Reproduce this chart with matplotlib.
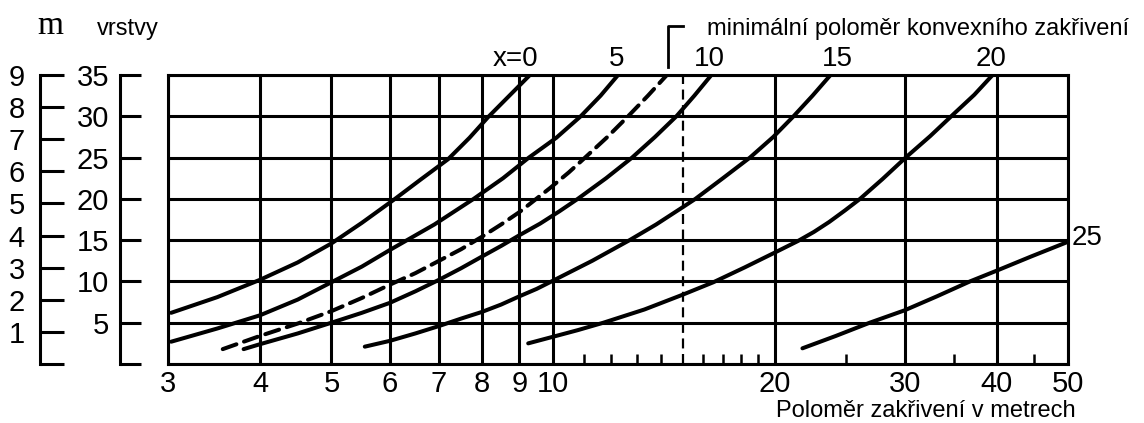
import numpy as np
import matplotlib.pyplot as plt
from matplotlib.ticker import FixedLocator, NullFormatter

plt.rcParams['font.family'] = ['Liberation Sans', 'DejaVu Sans']

# data (x = radius in m, y = layers)
x_ticks = [3, 4, 5, 6, 7, 8, 9, 10, 20, 30, 40, 50]
x_minor = [11, 12, 13, 14, 16, 17, 18, 19, 25, 35, 45]
vrstvy_ticks = [0, 5, 10, 15, 20, 25, 30, 35]
m_ticks = [0, 1, 2, 3, 4, 5, 6, 7, 8, 9]

c0_x = [3.03, 3.5, 4.0, 4.5, 5.0, 5.5, 6.1, 6.6, 7.2, 7.7, 8.16, 8.7, 9.3]
c0_y = [6.2, 8.1, 10.2, 12.3, 14.6, 17.1, 20, 22.3, 24.8, 27.4, 29.9, 32.4, 35]
c5_x = [3.03, 3.5, 4.0, 4.5, 5.0, 5.5, 6.0, 6.9, 7.8, 8.55, 9.27, 10.1, 10.9, 11.6, 12.25]
c5_y = [2.7, 4.3, 5.9, 7.8, 9.9, 11.8, 13.8, 16.9, 20, 22.5, 25, 27.4, 30, 32.5, 35]
dash_x = [3.56, 4.0, 4.5, 5.0, 5.5, 6.0, 6.5, 7.0, 7.5, 8.0, 8.5, 9.0, 9.9,
          10.5, 11.05, 11.85, 12.64, 13.45, 14.27]
dash_y = [1.8, 3.4, 4.9, 6.4, 8.0, 9.6, 11.0, 12.5, 13.9, 15.4, 16.9, 18.4, 21.3,
          23.2, 25, 27.5, 30, 32.5, 35]
c10_x = [3.8, 4.0, 4.5, 5.0, 5.5, 6.0, 6.5, 7.0, 7.5, 8.0, 8.5, 9.0, 9.6,
         10.2, 10.8, 11.8, 12.8, 13.75, 14.7, 15.55, 16.4]
c10_y = [1.8, 2.4, 3.7, 5.0, 6.2, 7.4, 8.8, 10.2, 11.6, 13.0, 14.3, 15.6, 17,
         18.5, 20, 22.5, 25, 27.5, 30, 32.5, 35]
c15_x = [5.55, 6.0, 6.5, 7.0, 7.5, 8.0, 8.5, 9.0, 9.5, 10.0, 11.3, 12.7, 13.8,
         15.0, 15.6, 17.0, 18.5, 19.9, 21.2, 22.5, 23.8]
c15_y = [2.1, 2.8, 3.7, 4.6, 5.5, 6.3, 7.2, 8.2, 9.1, 10.1, 12.5, 15, 16.9,
         19.0, 20, 22.5, 25, 27.5, 30, 32.5, 35]
c20_x = [9.25, 9.9, 10.8, 11.7, 13.3, 15.0, 16.5, 18.2, 20.0, 21.5, 22.6, 23.7,
         24.9, 26.1, 28.0, 30.1, 32.5, 34.9, 37.3, 39.5]
c20_y = [2.5, 3.2, 4.1, 5.0, 6.6, 8.4, 9.9, 11.7, 13.5, 14.9, 16.0, 17.2,
         18.6, 20, 22.4, 25, 27.6, 30.2, 32.6, 35]
c25_x = [21.8, 24.2, 26.9, 30.0, 33.2, 36.8, 40.0, 44.5, 50.0]
c25_y = [1.9, 3.4, 5.0, 6.5, 8.2, 10, 11.3, 13.0, 14.8]

min_radius = 15

W, H = 1144, 423
fig = plt.figure(figsize=(W / 100, H / 100), dpi=100)

left, right, top, bottom = 168, 1068, 75, 364
pos = [left / W, 1 - bottom / H, (right - left) / W, (bottom - top) / H]
ax = fig.add_axes(pos)

lw_grid = 2.2
ax.set_xscale('log')
ax.set_xlim(3, 50)
ax.set_ylim(0, 35)
ax.xaxis.set_major_locator(FixedLocator(x_ticks))
ax.set_xticklabels([str(t) for t in x_ticks])
ax.xaxis.set_minor_locator(FixedLocator(x_minor))
ax.xaxis.set_minor_formatter(NullFormatter())
ax.set_yticks(vrstvy_ticks)
ax.set_yticklabels([])
ax.tick_params(axis='x', which='major', length=0, pad=4, labelsize=21)
ax.tick_params(axis='x', which='minor', direction='in', length=7, width=1.8)
ax.tick_params(axis='y', length=0)
ax.grid(True, which='major', color='black', lw=lw_grid)
for s in ax.spines.values():
    s.set_linewidth(lw_grid)

lw_c = 2.9
for xs, ys in [(c0_x, c0_y), (c5_x, c5_y), (c10_x, c10_y),
               (c15_x, c15_y), (c20_x, c20_y), (c25_x, c25_y)]:
    ax.plot(xs, ys, color='black', lw=lw_c, solid_capstyle='round',
            solid_joinstyle='round', zorder=3)
ax.plot(dash_x, dash_y, color='black', lw=lw_c, ls=(0, (3.6, 2.0)),
        dash_capstyle='round', zorder=3)

ax.axvline(min_radius, color='black', lw=1.6, ls=(0, (4.5, 2.5)), zorder=2)
ax.plot([14.3, 14.3, 15.0], [36.0, 40.9, 40.9], color='black', lw=2.0,
        clip_on=False)

# curve labels
for lab, xv in [('x=0', 8.9), ('5', 12.2), ('10', 16.3), ('15', 24.3), ('20', 39.3)]:
    ax.text(xv, 36.1, lab, fontsize=20, ha='center', va='baseline')
ax.text(50.6, 15.2, '25', fontsize=20, ha='left', va='center')

# left scales
ax_v = fig.add_axes([120 / W, pos[1], 0.0005, pos[3]])
ax_v.set_ylim(0, 35)
ax_v.set_yticks(vrstvy_ticks)
ax_v.set_yticklabels([''] + [str(t) for t in vrstvy_ticks[1:]])
ax_v.set_xticks([])
ax_v.tick_params(axis='y', direction='in', length=15, width=lw_grid,
                 pad=8, labelsize=21)

ax_m = fig.add_axes([40 / W, pos[1], 0.0005, pos[3]])
ax_m.set_ylim(0, 9)
ax_m.set_yticks(m_ticks)
ax_m.set_yticklabels([''] + [str(t) for t in m_ticks[1:]])
ax_m.set_xticks([])
ax_m.tick_params(axis='y', direction='in', length=17, width=lw_grid,
                 pad=11, labelsize=21)

for a in (ax_v, ax_m):
    a.patch.set_visible(False)
    for k in ('top', 'right', 'bottom'):
        a.spines[k].set_visible(False)
    a.spines['left'].set_linewidth(lw_grid)

fig.text(37 / W, 1 - 34 / H, 'm', fontsize=24, family='Liberation Serif',
         ha='left', va='baseline')
fig.text(97 / W, 1 - 35 / H, 'vrstvy', fontsize=17, ha='left', va='baseline')
fig.text(707 / W, 1 - 35 / H, 'minimální poloměr konvexního zakřivení',
         fontsize=17, ha='left', va='baseline')
fig.text(776 / W, 1 - 417 / H, 'Poloměr zakřivení v metrech',
         fontsize=17, ha='left', va='baseline')

fig.savefig('out.png', dpi=100)
